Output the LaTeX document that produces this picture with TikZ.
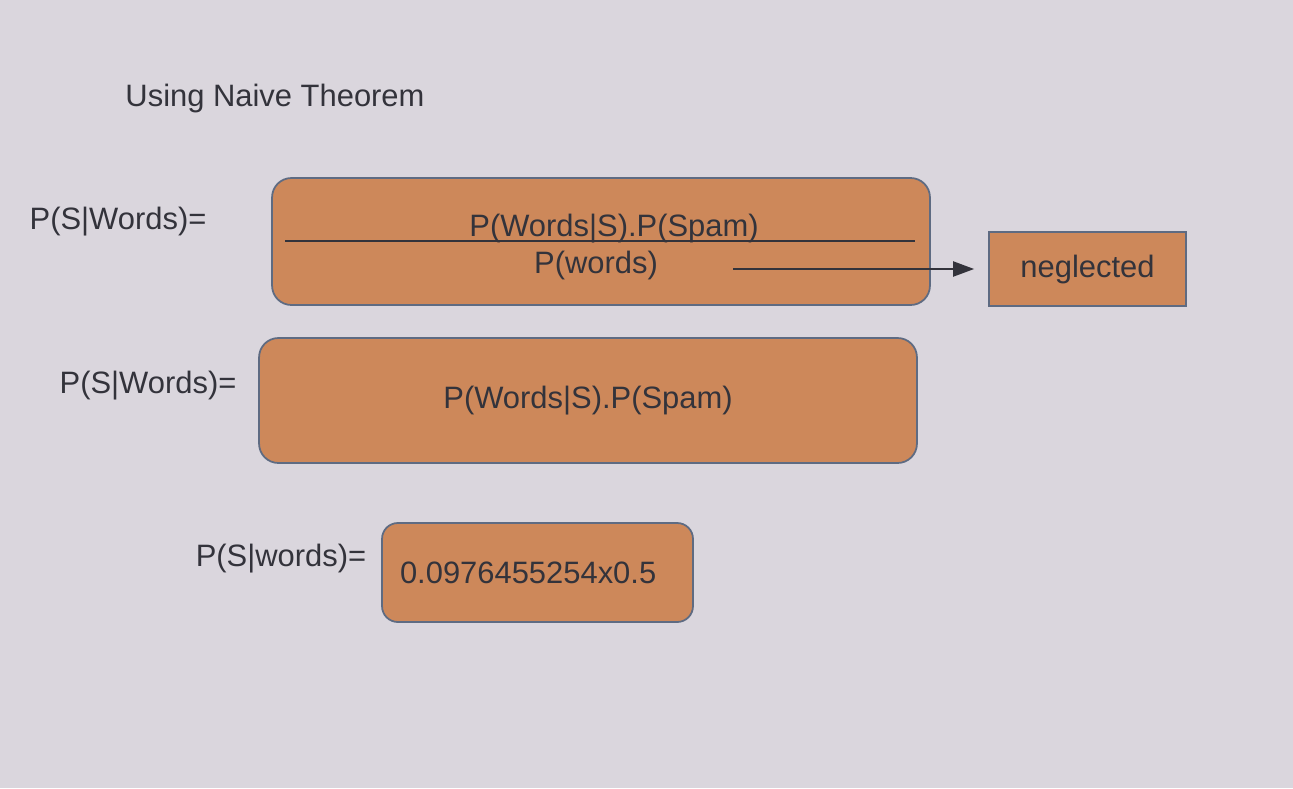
\documentclass[tikz,border=0pt]{standalone}
\usepackage{fontspec}
\setmainfont{Liberation Sans}
\usetikzlibrary{arrows.meta,positioning}
\definecolor{SlideBg}{HTML}{DAD6DD}
\definecolor{BoxFill}{HTML}{CD885A}
\definecolor{BoxLine}{HTML}{5E6B82}
\definecolor{InkGrey}{HTML}{33333B}

\begin{document}
\begin{tikzpicture}[x=0.02cm,y=-0.02cm]
    \tikzset{
      formula/.style={rounded corners=11pt,fill=BoxFill,draw=BoxLine,line width=1pt,inner sep=0pt,font=\fontsize{17.6}{20}\selectfont,text=InkGrey},
      plainbox/.style={fill=BoxFill,draw=BoxLine,line width=1pt,inner sep=0pt,font=\fontsize{17.6}{20}\selectfont,text=InkGrey},
      eqtext/.style={inner sep=0pt,font=\fontsize{17.6}{20}\selectfont,text=InkGrey},
      eqlabel/.style={inner sep=0pt,font=\fontsize{17.6}{20}\selectfont,text=InkGrey}
    }
    \fill[SlideBg] (0,0) rectangle (1293,788);
    \node[eqlabel] (title) at (275,99) {Using Naive Theorem};
    % first line: full fraction
    \node[formula,minimum width=13.16cm,minimum height=2.54cm] (full) at (601,241.5) {};
    \node[eqlabel] (lhsa) at (118,222) {P(S|Words)=};
    \node[eqtext] (numa) at (614,229) {P(Words|S).P(Spam)};
    \node[eqtext] (dena) at (596,265) {P(words)};
    \coordinate (barl) at (285,241);
    \coordinate (barr) at (915,241);
    \draw[InkGrey,line width=1.2pt] (barl) -- (barr);
    \node[plainbox,minimum width=3.94cm,minimum height=1.48cm] (neglect) at (1087.5,269) {neglected};
    \coordinate (dropfrom) at (733,269);
    \draw[InkGrey,line width=1.2pt,shorten >=0.28cm,-{Triangle[length=0.42cm,width=0.3cm]}] (dropfrom) -- (neglect.west);
    % second line: denominator dropped
    \node[formula,minimum width=13.16cm,minimum height=2.5cm] (numonly) at (588,400.5) {P(Words|S).P(Spam)};
    \node[eqlabel] (lhsb) at (148,386) {P(S|Words)=};
    % third line: values
    \node[formula,rounded corners=9pt,text width=5.5cm,align=left,inner xsep=0.36cm,minimum height=1.98cm] (values) at (537.5,572.5) {0.0976455254x0.5};
    \node[eqlabel] (lhsc) at (281,559) {P(S|words)=};
\end{tikzpicture}
\end{document}
